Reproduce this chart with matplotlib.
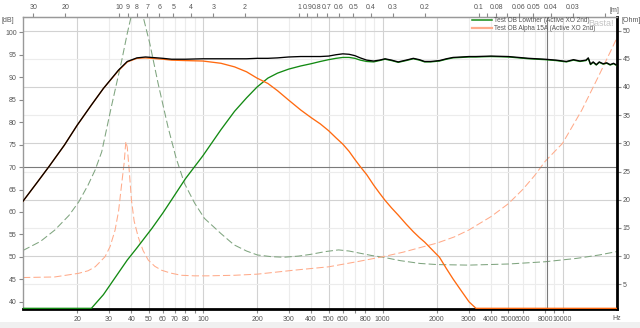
import matplotlib
matplotlib.use("Agg")
import matplotlib.pyplot as plt
from matplotlib.lines import Line2D
from matplotlib.patches import Rectangle
from matplotlib.ticker import FixedLocator, NullFormatter, NullLocator
import numpy as np

plt.rcParams["font.family"] = ["Liberation Sans", "DejaVu Sans"]

# ---- frequency responses (dB SPL) ----
freq = [10, 12, 14, 17, 20, 24, 28, 34, 38, 43, 48, 52, 60, 67, 80, 100, 126, 150, 175, 200,
        230, 260, 300, 350, 400, 450, 500, 550, 600, 650, 700, 750, 815, 890, 960, 1030, 1120,
        1220, 1350, 1480, 1600, 1710, 1850, 2070, 2260, 2460, 2740, 3020, 3300, 4000, 5000,
        6500, 8000, 9200, 10500, 11500, 12500, 13500, 13900, 14300, 14800, 15400, 16000,
        16800, 17600, 18400, 19200, 20000]

spl_sum = [62.4, 66.6, 70.2, 74.9, 79.3, 83.8, 87.5, 91.6, 93.5, 94.3, 94.5, 94.4, 94.2, 94.0,
           94.0, 94.1, 94.1, 94.1, 94.1, 94.2, 94.2, 94.3, 94.5, 94.6, 94.6, 94.6, 94.7, 95.0,
           95.2, 95.1, 94.8, 94.3, 93.8, 93.6, 93.8, 94.1, 93.8, 93.4, 93.8, 94.2, 93.9, 93.5,
           93.5, 93.7, 94.1, 94.4, 94.5, 94.6, 94.6, 94.7, 94.6, 94.2, 94.0, 93.8, 93.5, 93.9,
           93.6, 93.8, 94.3, 92.9, 93.4, 92.8, 93.4, 93.0, 93.2, 92.8, 93.1, 92.7]

spl_lowther = [15.0, 19.8, 23.8, 28.8, 33.0, 37.8, 41.6, 46.5, 49.3, 52.0, 54.5, 56.3, 59.8,
               62.7, 67.4, 72.5, 78.3, 82.4, 85.4, 87.8, 89.8, 90.9, 91.8, 92.5, 93.0, 93.5,
               93.9, 94.2, 94.4, 94.4, 94.2, 93.8, 93.5, 93.4, 93.7, 94.0, 93.7, 93.3, 93.7,
               94.1, 93.8, 93.4, 93.4, 93.6, 94.0, 94.3, 94.4, 94.5, 94.5, 94.6, 94.5, 94.1,
               93.9, 93.7, 93.4, 93.8, 93.5, 93.7, 94.2, 92.8, 93.3, 92.7, 93.3, 92.9, 93.1,
               92.7, 93.0, 92.6]

spl_alpha = [62.4, 66.6, 70.2, 74.9, 79.3, 83.8, 87.5, 91.5, 93.4, 94.2, 94.3, 94.2, 94.0,
             93.8, 93.7, 93.6, 93.1, 92.3, 91.2, 89.8, 88.6, 87.0, 84.9, 82.7, 81.0, 79.6,
             78.1, 76.5, 75.1, 73.5, 71.7, 70.1, 68.3, 66.0, 64.2, 62.6, 60.9, 59.3, 57.3,
             55.6, 54.3, 53.3, 51.9, 49.9, 47.4, 45.1, 42.4, 40.0, 37.8, 33.0, 28.0, 22.0,
             18.0, 15.0, 12.0, 10.0, 8.0, 6.0, 5.0, 4.0, 3.0, 2.0, 1.0, 0.0, -1.0, -2.0,
             -3.0, -4.0]

# ---- impedance curves (Ohm) ----
z_lowther_f = [10, 12.5, 15, 18, 20.4, 23, 25.2, 27.4, 31, 35.4, 38, 40, 42, 43.3, 44.5, 46.6,
               50.7, 56.4, 64, 71, 79, 90, 102, 126, 149, 175, 201, 240, 282, 340, 396, 480,
               568, 650, 751, 870, 1006, 1250, 1610, 2000, 3000, 5000, 8000, 12000, 16000,
               20000]
z_lowther = [11.0, 12.6, 14.6, 17.2, 19.6, 22.6, 25.3, 28.5, 36.5, 44.7, 49.5, 52.6, 55.0,
             56.0, 55.3, 52.4, 47.7, 40.6, 32.9, 27.4, 22.9, 19.4, 16.7, 14.0, 12.0, 10.9,
             10.2, 9.9, 9.8, 10.0, 10.3, 10.8, 11.1, 10.9, 10.5, 10.1, 9.8, 9.2, 8.7, 8.5,
             8.4, 8.6, 9.0, 9.6, 10.2, 10.8]

z_alpha_f = [10, 15, 20.4, 23, 25.2, 28.6, 30.5, 32.5, 34, 35.4, 36.5, 37.3, 38, 39, 40.1,
             41.5, 43.7, 46.5, 49.7, 54, 58.9, 66, 75.8, 90, 106, 150, 201, 321, 500, 718,
             1006, 1300, 1610, 2000, 2500, 3000, 4000, 5000, 6000, 7000, 8000, 10000, 12800,
             15800, 18800, 20000]
z_alpha = [6.2, 6.3, 6.95, 7.4, 8.1, 9.9, 11.7, 14.6, 18.0, 22.9, 26.5, 30.3, 29.3, 25.0,
           19.9, 16.2, 13.4, 11.0, 9.3, 8.2, 7.5, 7.0, 6.6, 6.5, 6.5, 6.6, 6.8, 7.5, 8.1, 9.0,
           9.9, 10.7, 11.5, 12.3, 13.4, 14.6, 17.0, 19.3, 21.8, 24.3, 26.8, 30.0, 35.9, 41.8,
           46.8, 48.6]

# ---- axis ticks ----
hz_ticks = [20, 30, 40, 50, 60, 70, 80, 100, 200, 300, 400, 500, 600, 800, 1000, 2000, 3000,
            4000, 5000, 6000, 8000, 10000]
hz_minor = [90, 700, 9000]
wl_ticks = [30, 20, 10, 9, 8, 7, 6, 5, 4, 3, 2, 1, 0.9, 0.8, 0.7, 0.6, 0.5, 0.4, 0.3, 0.2,
            0.1, 0.08, 0.06, 0.05, 0.04, 0.03]
wl_minor = [0.09, 0.07, 0.02]
db_ticks = list(range(40, 101, 5))
ohm_ticks = list(range(5, 51, 5))
grid_freqs = [20, 30, 40, 50, 60, 70, 80, 90, 100, 200, 300, 400, 500, 600, 700, 800, 900,
              1000, 2000, 3000, 4000, 5000, 6000, 7000, 8000, 9000, 10000]
grid_strong = [20, 50, 100, 200, 500, 1000, 2000, 5000, 10000]
ref_level = 70
cursor_freq = 8160
speed_of_sound = 343.0

series_names = ["Test OB Lowther (Active XO 2nd)", "Test OB Alpha 15A (Active XO 2nd)"]

DB_LIM = (38.4, 103.4)
OHM_LIM = (0.62, 52.4)
F_LIM = (10, 20000)

GREEN = "#138a13"
ORANGE = "#ff6a10"
GREEN_D = "#7fa47f"
ORANGE_D = "#ffab8a"
TXT = "#555555"
TICK = "#8a8a8a"

fig = plt.figure(figsize=(6.4, 3.28), dpi=100)
fig.patch.set_facecolor("white")
fig.add_artist(Rectangle((0, 0), 1, 6 / 328, transform=fig.transFigure,
                         facecolor="#f0f0f0", edgecolor="none", zorder=-10))

pos = [23 / 640, 19 / 328, 593.7 / 640, 292 / 328]
ax = fig.add_axes(pos)
axz = ax.twinx()
ax.set_zorder(axz.get_zorder() + 1)
ax.patch.set_visible(False)
axz.patch.set_facecolor("white")

ax.set_xscale("log")
ax.set_xlim(*F_LIM)
ax.set_ylim(*DB_LIM)
axz.set_ylim(*OHM_LIM)

# grid on the impedance layer (underneath everything)
for f in grid_freqs:
    axz.axvline(f, color="#d2d2d2" if f in grid_strong else "#ececec", lw=0.8, zorder=0)
for z in ohm_ticks:
    axz.axhline(z, color="#d2d2d2" if z % 10 == 0 else "#ececec", lw=0.8, zorder=0)

# impedance curves
axz.plot(z_lowther_f, z_lowther, color=GREEN_D, lw=0.75, dashes=(7, 3), zorder=2)
axz.plot(z_alpha_f, z_alpha, color=ORANGE_D, lw=0.75, dashes=(7, 3), zorder=2)

# reference level and cursor
ax.axhline(ref_level, color="#7a7a7a", lw=0.8, zorder=1)
ax.axvline(cursor_freq, color="#7a7a7a", lw=0.8, zorder=1)

# frequency responses, pinned to the bottom edge when below range
floor = DB_LIM[0] + 0.15
ax.plot(freq, np.maximum(spl_lowther, floor), color=GREEN, lw=0.95, zorder=3)
ax.plot(freq, np.maximum(spl_alpha, floor), color=ORANGE, lw=0.95, zorder=4)
ax.plot(freq, spl_sum, color="black", lw=0.95, zorder=5)

# spines
for s in axz.spines.values():
    s.set_visible(False)
ax.spines["left"].set_color("#999999")
ax.spines["left"].set_linewidth(1.0)
ax.spines["top"].set_color("#999999")
ax.spines["top"].set_linewidth(1.0)
ax.spines["bottom"].set_color("black")
ax.spines["bottom"].set_linewidth(2.0)
ax.spines["right"].set_color("black")
ax.spines["right"].set_linewidth(2.0)

# bottom axis (Hz)
ax.xaxis.set_major_locator(FixedLocator(hz_ticks))
ax.set_xticklabels([str(t) for t in hz_ticks])
ax.xaxis.set_minor_locator(FixedLocator(hz_minor))
ax.xaxis.set_minor_formatter(NullFormatter())
ax.tick_params(axis="x", which="both", direction="out", length=3, width=0.8,
               color=TICK, labelsize=5, labelcolor=TXT, pad=2)
ax.annotate("Hz", xy=(1, 0), xycoords="axes fraction", xytext=(0, -4),
            textcoords="offset points", ha="center", va="top", fontsize=5, color=TXT)

# left axis (dB)
ax.set_yticks(db_ticks)
ax.yaxis.set_minor_locator(NullLocator())
ax.tick_params(axis="y", direction="out", length=3, width=0.8, color=TICK,
               labelsize=5, labelcolor=TXT, pad=1.5)

# right axis (Ohm)
axz.set_yticks(ohm_ticks)
axz.yaxis.set_minor_locator(NullLocator())
axz.tick_params(axis="y", direction="out", length=3, width=0.8, color=TICK,
                labelsize=5, labelcolor=TXT, pad=1.5)

# top axis: wavelength in metres
top = ax.secondary_xaxis("top")
top.xaxis.set_major_locator(FixedLocator([speed_of_sound / w for w in wl_ticks]))
top.set_xticklabels([f"{w:g}" for w in wl_ticks])
top.xaxis.set_minor_locator(FixedLocator([speed_of_sound / w for w in wl_minor]))
top.xaxis.set_minor_formatter(NullFormatter())
top.tick_params(axis="x", which="both", direction="out", length=3, width=0.8,
                color=TICK, labelsize=5, labelcolor=TXT, pad=1.5)
top.spines["top"].set_color("#999999")

fig.text(2 / 640, 1 - 20 / 328, "[dB]", fontsize=5, color=TXT, va="center", ha="left")
fig.text(622 / 640, 1 - 20 / 328, "[Ohm]", fontsize=5, color=TXT, va="center", ha="left")
fig.text(614 / 640, 1 - 10 / 328, "[m]", fontsize=5, color=TXT, va="center", ha="center")
fig.text(614 / 640, 1 - 23 / 328, "Basta!", fontsize=6.5, color="#c4c4c4",
         va="center", ha="right")

handles = [Line2D([], [], color=GREEN, lw=1.1), Line2D([], [], color=ORANGE_D, lw=1.6)]
ax.legend(handles, series_names, loc="upper left", bbox_to_anchor=(472 / 640, 1 - 17 / 328),
          bbox_transform=fig.transFigure, frameon=False, fontsize=4.7, handlelength=3.0,
          handletextpad=0.3, labelspacing=0.2, borderpad=0, borderaxespad=0,
          labelcolor=TXT)

fig.savefig("out.png", dpi=100)
